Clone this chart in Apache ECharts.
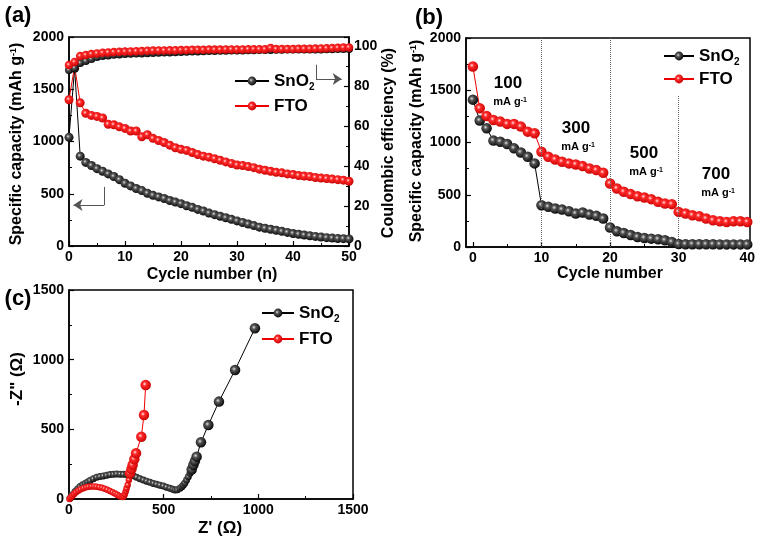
<!DOCTYPE html>
<html><head><meta charset="utf-8">
<script src="https://cdn.jsdelivr.net/npm/echarts/dist/echarts.min.js"></script>
<style>html,body{margin:0;padding:0;background:#fff}#c{width:763px;height:543px}</style>
</head><body><div id="c"></div>
<script>
// ---------- DATA ----------
// Panel (a): cycling performance, cycles 0..50
const snoCapA = [1040,1700,860,800,770,740,715,690,665,635,600,575,550,530,505,485,470,455,435,420,405,385,370,350,335,315,300,285,270,255,240,225,210,195,180,170,160,150,140,130,120,112,105,98,92,86,80,76,72,70,68];
const ftoCapA = [1400,1720,1370,1270,1250,1240,1225,1165,1160,1140,1125,1100,1100,1045,1065,1030,1010,990,965,940,925,915,895,875,860,850,835,820,805,790,775,770,760,750,735,725,715,705,700,690,685,675,670,665,655,650,645,640,635,630,620];
const snoCEA = [88,89,91.5,92.5,93.5,94.5,95,95.3,95.6,95.8,96,96.1,96.2,96.3,96.4,96.5,96.6,96.7,96.8,96.9,97,97.1,97.2,97.3,97.4,97.5,97.5,97.6,97.6,97.7,97.8,97.8,97.9,97.9,98,98,98,98.1,98.1,98.2,98.2,98.2,98.3,98.3,98.3,98.3,98.4,98.4,98.5,98.5,98.5];
const ftoCEA = [90.5,92,95,95.5,96,96.3,96.6,96.8,97,97.1,97.2,97.3,97.4,97.5,97.6,97.7,97.8,97.8,97.9,97.9,98,98,98.1,98.1,98.1,98.2,98.2,98.2,98.3,98.3,98.3,98.3,98.4,98.4,98.4,98.4,99,98.5,98.5,98.5,98.5,98.6,98.6,98.6,98.7,98.8,98.9,99,99.1,99.2,99.3];
// Panel (b): rate performance, cycles 0..40
const snoB = [1410,1210,1136,1018,1008,985,944,905,864,800,400,384,368,358,342,320,330,310,298,272,186,150,134,115,96,86,80,74,64,48,28,27,27,26,26,26,25,25,25,25,25];
const ftoB = [1728,1328,1254,1216,1200,1178,1178,1152,1104,1088,912,864,838,816,800,790,774,752,736,710,608,560,528,506,486,474,458,432,416,410,336,320,304,294,272,256,246,240,246,246,240];
const rateBoundaries = [10, 20, 30];
const rateLabels = ['100', '300', '500', '700'];
// Panel (c): Nyquist plots [Z', -Z'']
const snoC = [[5,5],[15,28],[32,53],[45,72],[58,89],[72,102],[85,112],[98,122],[111,132],[128,145],[146,156],[163,161],[181,165],[199,170],[217,175],[235,177],[252,179],[270,178],[287,177],[305,176],[322,175],[340,166],[357,156],[375,146],[393,136],[410,128],[428,120],[446,112],[463,105],[480,99],[498,93],[515,85],[533,77],[548,70],[560,65],[572,66],[586,77],[596,88],[604,100],[612,115],[621,136],[630,160],[639,184],[648,212],[657,244],[665,272],[674,304],[697,407],[736,531],[792,699],[877,926],[982,1225]];
const ftoC = [[3,0],[10,12],[18,24],[27,36],[37,48],[49,60],[62,70],[76,78],[90,84],[104,88],[118,90],[132,90],[146,88],[160,85],[174,80],[188,74],[202,66],[216,58],[230,49],[243,40],[255,31],[266,22],[276,16],[284,14],[290,20],[295,35],[300,55],[304,75],[310,100],[316,136],[322,184],[330,215],[336,244],[345,285],[354,328],[382,447],[396,603],[405,818]];
// Tick labels
const xTicksA = [0,10,20,30,40,50];
const xTicksB = [0,10,20,30,40];
const xMinorB = [5,15,25,35];
const capTicks = [0,500,1000,1500,2000];
const ceTicks = [0,20,40,60,80,100];
const zTicks = [0,500,1000,1500];

// ---------- STYLE ----------
const FONT = '"Liberation Sans", Arial, sans-serif';
const BLACK = {type:'radial',x:0.4,y:0.4,r:0.65,colorStops:[{offset:0,color:'#e0e0e0'},{offset:0.3,color:'#555'},{offset:1,color:'#000'}]};
const RED = {type:'radial',x:0.4,y:0.4,r:0.65,colorStops:[{offset:0,color:'#ffe6e6'},{offset:0.3,color:'#ff2a2a'},{offset:1,color:'#c40000'}]};
const lab = {color:'#000', fontFamily:FONT, fontWeight:'bold', fontSize:14};
function xAx(grid, min, max, interval, ticks) {
  return {type:'value', gridIndex:grid, min, max, interval,
    axisLine:{show:true,onZero:false,lineStyle:{color:'#000',width:1.5}},
    axisTick:{inside:true,length:5,lineStyle:{color:'#000',width:1.2}},
    minorTick:{show:true,splitNumber:2,length:3,lineStyle:{color:'#000',width:1}},
    splitLine:{show:false},
    axisLabel:Object.assign({margin:4, formatter:v => ticks.includes(v) ? String(v) : ''}, lab)};
}
function yAx(grid, min, max, interval, ticks, pos) {
  const a = xAx(grid, min, max, interval, ticks);
  a.position = pos || 'left';
  a.axisLabel.margin = 5;
  return a;
}
const xAxes = [
  xAx(0, 0, 50, 10, xTicksA),
  {type:'value', gridIndex:1, min:-1, max:40.4,
    axisLine:{show:true,onZero:false,lineStyle:{color:'#000',width:1.5}},
    axisTick:{inside:true,length:5,customValues:xTicksB,lineStyle:{color:'#000',width:1.2}},
    splitLine:{show:false},
    axisLabel:Object.assign({margin:4, customValues:xTicksB}, lab)},
  {type:'value', gridIndex:1, min:-1, max:40.4, position:'bottom',
    axisLine:{show:false}, axisLabel:{show:false}, splitLine:{show:false},
    axisTick:{inside:true,length:3,customValues:xMinorB,lineStyle:{color:'#000',width:1}}},
  xAx(2, 0, 1500, 500, zTicks)
];
const yAxes = [
  yAx(0, 0, 2000, 500, capTicks),
  yAx(0, 0, 104.5, 20, ceTicks, 'right'),
  yAx(1, 0, 2000, 500, capTicks),
  yAx(2, 0, 1500, 500, zTicks)
];

function ser(name, data, color, grad, xi, yi, size, extra) {
  return Object.assign({type:'line', name, data, xAxisIndex:xi, yAxisIndex:yi,
    symbol:'circle', symbolSize:size, showSymbol:true, animation:false,
    lineStyle:{color, width:1}, itemStyle:{color:grad, borderWidth:0}}, extra || {});
}
const idx = a => a.map((v,i) => [i, v]);

const arrowLine = {silent:true, symbol:['none','none'], label:{show:false}, lineStyle:{color:'#555', width:1, type:'solid'}};
const series = [
  ser('SnO2', idx(snoCapA), '#000', BLACK, 0, 0, 9, {
    markLine:Object.assign({}, arrowLine, {symbolSize:[9,9], data:[
      [{coord:[6.3,565]},{coord:[6.3,392]}],
      [{coord:[6.3,392]},{coord:[0.8,392], symbol:'arrow'}],
      [{coord:[44.1,1735]},{coord:[44.1,1598]}],
      [{coord:[44.1,1598]},{coord:[48.7,1598], symbol:'arrow'}]
    ]})}),
  ser('FTO', idx(ftoCapA), '#e00', RED, 0, 0, 9),
  ser('SnO2', idx(snoCEA), '#000', BLACK, 0, 1, 8),
  ser('FTO', idx(ftoCEA), '#e00', RED, 0, 1, 8.5),
  ser('SnO2', idx(snoB), '#000', BLACK, 1, 2, 10.5, {
    markLine:{silent:true, symbol:['none','none'], label:{show:false}, lineStyle:{color:'#666', width:1, type:'dotted'},
      data: rateBoundaries.map((b,i) => [{coord:[b,0]},{coord:[b, i===2 ? 1450 : 2000]}])}}),
  ser('FTO', idx(ftoB), '#e00', RED, 1, 2, 10.5),
  ser('SnO2', snoC, '#000', BLACK, 3, 3, (v) => v[1] > 200 ? 10.5 : 7),
  ser('FTO', ftoC, '#e00', RED, 3, 3, (v) => v[1] > 150 ? 10.5 : 6.5)
];

const legTxt = {color:'#000', fontFamily:FONT, fontWeight:'bold', fontSize:17, lineHeight:18,
  rich:{s:{fontFamily:FONT, fontWeight:'bold', fontSize:10, verticalAlign:'bottom', lineHeight:22, color:'#000'}}};
const legFmt = n => n === 'SnO2' ? 'SnO{s|2}' : n;
function leg(left, top, w, gap) {
  return {data:['SnO2','FTO'], left, top, orient:'vertical', itemWidth:w, itemHeight:11, itemGap:gap,
    selectedMode:false, textStyle:legTxt, formatter:legFmt};
}

function txt(x, y, text, size, rot, rich) {
  return {type:'text', x, y, rotation:rot||0, silent:true,
    style:{text, fill:'#000', fontFamily:FONT, fontWeight:'bold', fontSize:size, align:'center', verticalAlign:'middle', rich:rich||{}}};
}
const supR = {sup:{fontFamily:FONT, fontWeight:'bold', fontSize:9, verticalAlign:'top', lineHeight:12, fill:'#000'}};
const supS = {sup:{fontFamily:FONT, fontWeight:'bold', fontSize:7, verticalAlign:'top', lineHeight:9, fill:'#000'}};
const graphics = [
  txt(18, 16, '(a)', 22), txt(429, 18, '(b)', 22), txt(18, 299, '(c)', 22),
  txt(17, 144, 'Specific capacity (mAh g{sup|-1})', 16, Math.PI/2, supR),
  txt(389, 143, 'Coulombic efficiency (%)', 16, Math.PI/2),
  txt(212, 275, 'Cycle number (n)', 16),
  txt(417, 141, 'Specific capacity (mAh g{sup|-1})', 16, Math.PI/2, supR),
  txt(610, 274, 'Cycle number', 16),
  txt(17, 379, '-Z" (\u03A9)', 17, Math.PI/2),
  txt(220, 528, "Z' (\u03A9)", 17)
];
const annPos = [[508,83],[576,128],[644,153],[716,174]];
rateLabels.forEach((t,i) => {
  graphics.push(txt(annPos[i][0], annPos[i][1], t, 17));
  graphics.push(txt(annPos[i][0]+2, annPos[i][1]+19, 'mA g{sup|-1}', 11, 0, supS));
});

const chart = echarts.init(document.getElementById('c'), null, {renderer:'canvas'});
chart.setOption({
  backgroundColor:'#fff',
  animation:false,
  grid:[
    {left:69, top:37, width:280, height:209, show:true, borderColor:'#000', borderWidth:1.5, backgroundColor:'transparent'},
    {left:466, top:38, width:284, height:209, show:true, borderColor:'#000', borderWidth:1.5, backgroundColor:'transparent'},
    {left:69, top:290, width:284, height:209, show:true, borderColor:'#000', borderWidth:1.5, backgroundColor:'transparent'}
  ],
  xAxis:xAxes, yAxis:yAxes,
  legend:[leg(229,65,34,5), leg(658,40,30,3), leg(256,297,32,6)],
  series, graphic:graphics
});
</script></body></html>
